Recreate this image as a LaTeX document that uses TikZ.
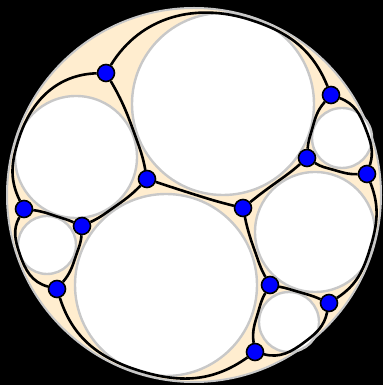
\documentclass[tikz,border=0pt]{standalone}
\usetikzlibrary{calc}
\definecolor{cream}{RGB}{255,237,207}
\definecolor{rim}{RGB}{200,200,200}
\pgfdeclarelayer{front}
\pgfsetlayers{main,front}
\tikzset{
  vtx/.style={circle,draw=black,fill=blue,line width=1.6pt,minimum size=17pt,inner sep=0pt},
  edge/.style={draw=black,line width=2.6pt},
  disc/.style={fill=white,draw=rim,line width=2.4pt},
}
\newcommand\arcedge[5]{%
  \draw[edge] let \p1=($(#5)-(#4)$), \p2=($(#2)-(#1)$), \p3=($(#3)-(#1)$), \p4=($(#2)-(#3)$),
    \n1={atan2(\y1,\x1)+90}, \n2={atan2(\y2,\x2)},
    \n5={cos(\n1-\n2)<0 ? \n1+180 : \n1},
    \n3={atan2(\y3,\x3)}, \n4={atan2(\y4,\x4)} in
    (#1) to[out={2*\n3-\n5}, in={\n5+180}] (#3) to[out={\n5}, in={2*\n4-\n5+180}] (#2);}
\begin{document}
\begin{tikzpicture}[x=1pt,y=1pt]
\useasboundingbox (0,0) rectangle (383,385);
\fill[black] (0,0) rectangle (383,385);
% circle centres
\coordinate (O) at (194,190);
\coordinate (c1) at (223,281);
\coordinate (c2) at (76,228);
\coordinate (c3) at (166,100);
\coordinate (c4) at (315,153);
\coordinate (c5) at (342,247);
\coordinate (c6) at (47,140);
\coordinate (c7) at (289,63);
\fill[cream,draw=rim,line width=2pt] (O) circle[radius=187];
\path[disc] (c1) circle[radius=91];
\path[disc] (c2) circle[radius=61];
\path[disc] (c3) circle[radius=91];
\path[disc] (c4) circle[radius=60];
\path[disc] (c5) circle[radius=30];
\path[disc] (c6) circle[radius=29];
\path[disc] (c7) circle[radius=30];
% tangency points
\coordinate (t12) at ($(c1)!{92/154}!(c2)$);
\coordinate (t13) at ($(c1)!0.5!(c3)$);
\coordinate (t23) at ($(c2)!{62/154}!(c3)$);
\coordinate (t26) at ($(c2)!{62/92}!(c6)$);
\coordinate (t63) at ($(c6)!{30/122}!(c3)$);
\coordinate (t14) at ($(c1)!{92/153}!(c4)$);
\coordinate (t34) at ($(c3)!{92/153}!(c4)$);
\coordinate (t15) at ($(c1)!{92/123}!(c5)$);
\coordinate (t54) at ($(c5)!{31/92}!(c4)$);
\coordinate (t47) at ($(c4)!{61/92}!(c7)$);
\coordinate (t37) at ($(c3)!{92/123}!(c7)$);
\coordinate (o1) at ($(O)!184pt!(c1)$);
\coordinate (o2) at ($(O)!184pt!(c2)$);
\coordinate (o3) at ($(O)!184pt!(c3)$);
\coordinate (o4) at ($(O)!184pt!(c4)$);
\coordinate (o5) at ($(O)!184pt!(c5)$);
\coordinate (o6) at ($(O)!184pt!(c6)$);
\coordinate (o7) at ($(O)!184pt!(c7)$);
% vertices
\begin{pgfonlayer}{front}
\node[vtx] (A) at (106,312) {};
\node[vtx] (B) at (147,206) {};
\node[vtx] (C) at (24,176) {};
\node[vtx] (D) at (82,159) {};
\node[vtx] (E) at (57,96) {};
\node[vtx] (F) at (243,177) {};
\node[vtx] (G) at (307,227) {};
\node[vtx] (H) at (331,290) {};
\node[vtx] (I) at (367,211) {};
\node[vtx] (J) at (270,100) {};
\node[vtx] (K) at (329,82) {};
\node[vtx] (L) at (255,33) {};
\end{pgfonlayer}
% edges
\arcedge{A}{B}{t12}{c1}{c2}
\arcedge{B}{F}{t13}{c1}{c3}
\arcedge{B}{D}{t23}{c2}{c3}
\arcedge{C}{D}{t26}{c2}{c6}
\arcedge{D}{E}{t63}{c6}{c3}
\arcedge{F}{G}{t14}{c1}{c4}
\arcedge{F}{J}{t34}{c3}{c4}
\arcedge{G}{H}{t15}{c1}{c5}
\arcedge{G}{I}{t54}{c5}{c4}
\arcedge{J}{K}{t47}{c4}{c7}
\arcedge{J}{L}{t37}{c3}{c7}
\arcedge{A}{C}{o2}{O}{c2}
\arcedge{A}{H}{o1}{O}{c1}
\arcedge{C}{E}{o6}{O}{c6}
\arcedge{E}{L}{o3}{O}{c3}
\arcedge{L}{K}{o7}{O}{c7}
\arcedge{K}{I}{o4}{O}{c4}
\arcedge{I}{H}{o5}{O}{c5}
\end{tikzpicture}
\end{document}
